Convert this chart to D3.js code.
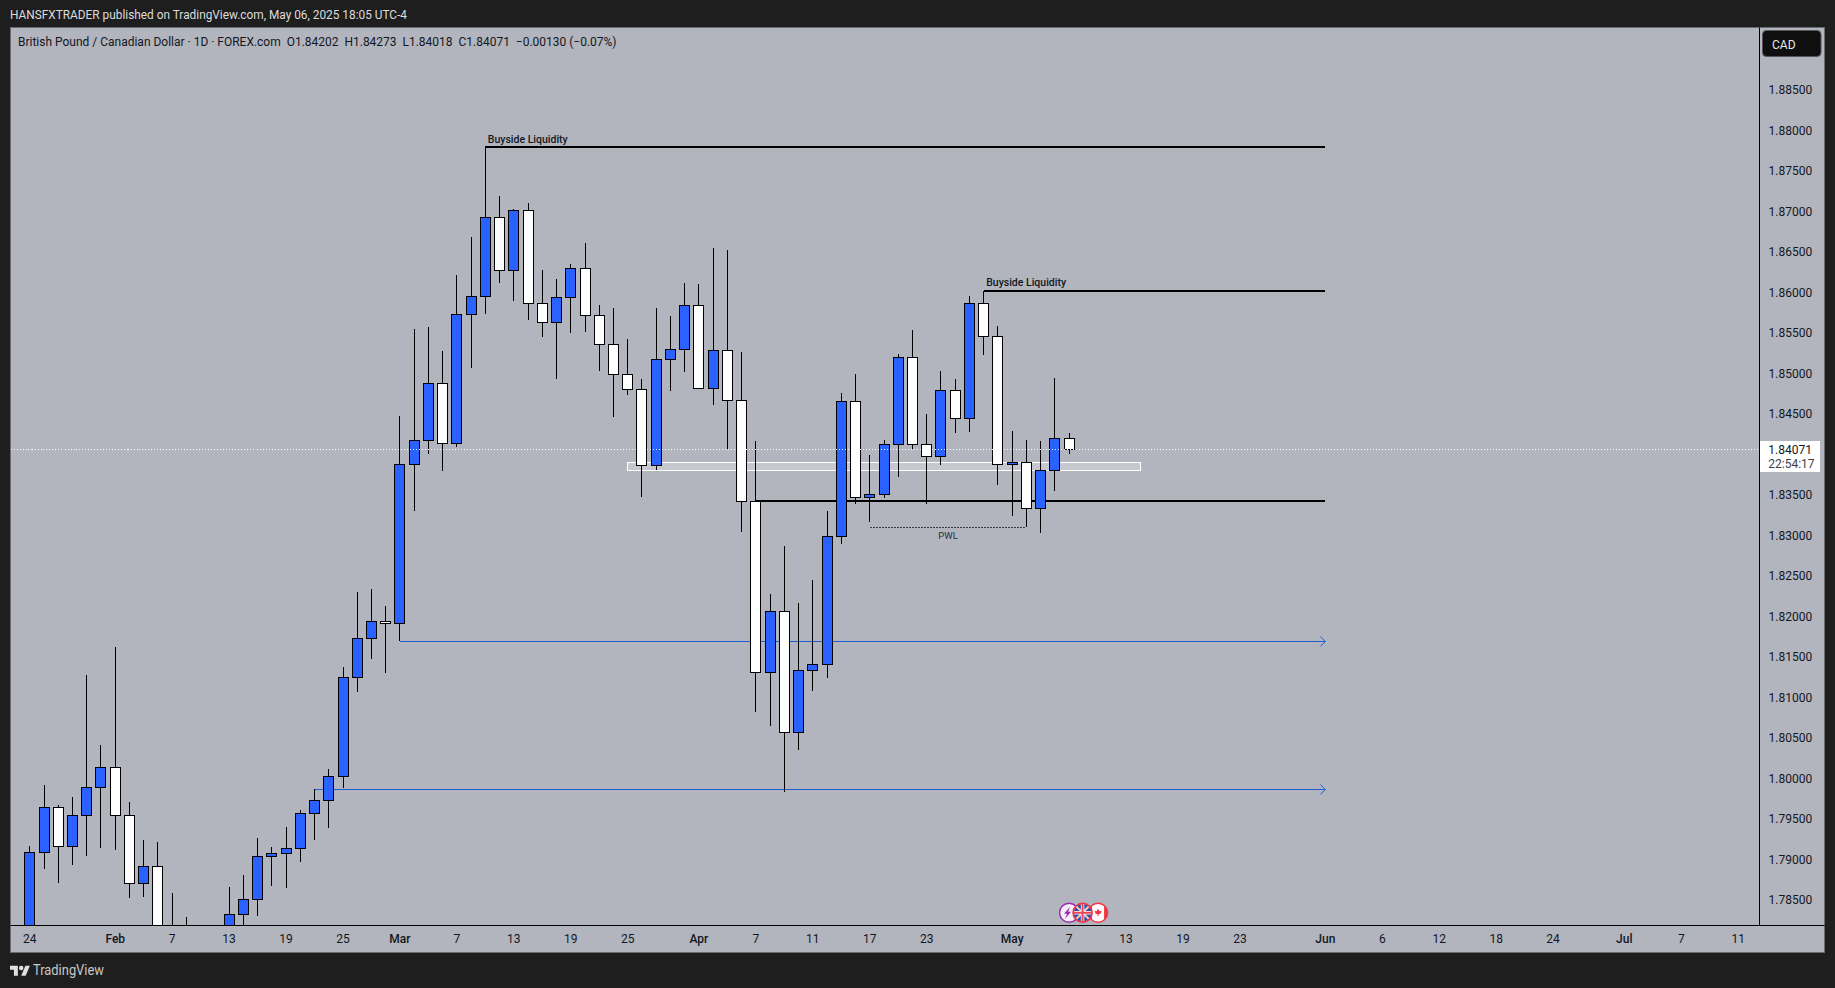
<!DOCTYPE html>
<html>
<head>
<meta charset="utf-8">
<script src="https://cdn.jsdelivr.net/npm/d3@7"></script>
<style>
  html, body { margin: 0; padding: 0; background: #1e1e1e; overflow: hidden; }
  text { font-family: Roboto, sans-serif; }
</style>
</head>
<body>
<svg id="chart" width="1835" height="988"></svg>
<script>
// daily candles, one entry per slot starting at Jan 24
var opens = [1.78013,1.79091,1.79651,1.79165,1.79553,1.79898,1.80145,1.79553,1.78713,1.78923,
  1.77951,1.77519,1.77766,1.77581,1.77766,1.78330,1.78516,1.79046,1.79083,1.79145,
  1.79577,1.79738,1.80034,1.81256,1.81738,1.81948,1.81923,1.83886,1.84182,1.84886,
  1.84145,1.85738,1.85960,1.86935,1.86281,1.87022,1.85874,1.85639,1.85948,1.86306,
  1.85725,1.85367,1.84997,1.84812,1.83874,1.85182,1.85306,1.85849,1.84824,1.85293,
  1.84676,1.83429,1.81313,1.82071,1.80577,1.81343,1.81417,1.82997,1.84664,1.83479,
  1.83516,1.84133,1.85207,1.84133,1.83985,1.84800,1.84454,1.85874,1.85466,1.83886,
  1.83911,1.83343,1.83812,1.84202];
var highs = [1.79174,1.79927,1.79680,1.79779,1.81285,1.80421,1.81630,1.79717,1.79248,1.79223,
  1.78593,1.78297,1.78013,1.77951,1.78667,1.78816,1.79272,1.79161,1.79408,1.79618,
  1.79877,1.80124,1.81383,1.82309,1.82346,1.82137,1.84482,1.85556,1.85581,1.85285,
  1.86223,1.86692,1.87807,1.87198,1.87038,1.87112,1.86285,1.86174,1.86359,1.86618,
  1.85853,1.85816,1.85433,1.84939,1.85816,1.85717,1.86124,1.86112,1.86556,1.86532,
  1.85272,1.84174,1.82285,1.82877,1.82174,1.82458,1.83309,1.84766,1.85001,1.84001,
  1.84186,1.85244,1.85544,1.84507,1.85038,1.84939,1.85964,1.86025,1.85593,1.84297,
  1.84186,1.84174,1.84951,1.84273];
var lows = [1.77890,1.78893,1.78721,1.78943,1.79054,1.79153,1.79128,1.78535,1.78548,1.77766,
  1.77396,1.77396,1.77396,1.77396,1.77581,1.78137,1.78313,1.78683,1.78659,1.78980,
  1.79251,1.79400,1.79893,1.81079,1.81486,1.81313,1.81701,1.83313,1.84017,1.83807,
  1.84103,1.85079,1.85745,1.86128,1.85902,1.85667,1.85461,1.84943,1.85511,1.85523,
  1.85041,1.84474,1.84745,1.83486,1.83819,1.84795,1.85029,1.84824,1.84622,1.84075,
  1.83054,1.80832,1.80659,1.79844,1.80362,1.81091,1.81251,1.82906,1.83396,1.83177,
  1.83474,1.83733,1.84075,1.83400,1.83881,1.84276,1.84288,1.85239,1.83634,1.83251,
  1.83116,1.83042,1.83560,1.84018];
var closes = [1.79091,1.79651,1.79165,1.79553,1.79898,1.80145,1.79553,1.78713,1.78923,1.77951,
  1.77519,1.77766,1.77581,1.77766,1.78330,1.78516,1.79046,1.79083,1.79145,1.79577,
  1.79738,1.80034,1.81256,1.81738,1.81948,1.81923,1.83886,1.84182,1.84886,1.84145,
  1.85738,1.85960,1.86935,1.86281,1.87022,1.85874,1.85639,1.85948,1.86306,1.85725,
  1.85367,1.84997,1.84812,1.83874,1.85182,1.85306,1.85849,1.84824,1.85293,1.84676,
  1.83429,1.81313,1.82071,1.80577,1.81343,1.81417,1.82997,1.84664,1.83479,1.83516,
  1.84133,1.85207,1.84133,1.83985,1.84800,1.84454,1.85874,1.85466,1.83886,1.83911,
  1.83343,1.83812,1.84207,1.84071];

// 1.84 is not listed, the last price tag sits on it
var priceTicks = [1.885,1.88,1.875,1.87,1.865,1.86,1.855,1.85,1.845,1.835,1.83,1.825,1.82,
  1.815,1.81,1.805,1.8,1.795,1.79,1.785];
var timeTickSlots = [0,6,10,14,18,22,26,30,34,38,42,47,51,55,59,63,69,73,77,81,85,91,95,99,103,107,112,116,120];
var timeTickLabels = ["24","Feb","7","13","19","25","Mar","7","13","19","25","Apr","7","11","17","23",
  "May","7","13","19","23","Jun","6","12","18","24","Jul","7","11"];

var lastPrice = 1.84071;
var countdown = "22:54:17";
var headerText = "HANSFXTRADER published on TradingView.com, May 06, 2025 18:05 UTC-4";
var legendText = "British Pound / Canadian Dollar \u00b7 1D \u00b7 FOREX.com  O1.84202  H1.84273  L1.84018  C1.84071  \u22120.00130 (\u22120.07%)";

// drawings: [start slot, end slot, price]
var liquidityLines = [[32, 91, 1.87807], [67, 91, 1.86025], [51, 91, 1.83437]];
var liquidityLabels = ["Buyside Liquidity", "Buyside Liquidity"];
var arrowLines = [[26, 91, 1.81701], [20, 91, 1.79874]];
var zoneBox = [42, 78, 1.83911, 1.83812];
var pwlLine = [59, 70, 1.83108];

var paneLeft = 10.5, paneTop = 27.5, paneRight = 1824.5, paneBottom = 952.5;
var axisX = 1759.5, axisY = 925.5;
var dark = "#131722";

var svg = d3.select("#chart");

var xScale = d3.scaleLinear().domain([0, 120]).range([29.8, 1738.2]);
var yScale = d3.scaleLinear().domain([1.84071, 1.885]).range([449.3, 90.5]);

function snap(v) { return Math.floor(v) + 0.5; }

/* background and frame */
svg.append("rect").attr("x", paneLeft).attr("y", paneTop)
  .attr("width", paneRight - paneLeft).attr("height", paneBottom - paneTop)
  .attr("fill", "#b2b5be").attr("stroke", "#6a6b70");

svg.append("text").attr("x", 10).attr("y", 19).attr("fill", "#dcdcdc")
  .attr("font-size", 12).attr("textLength", 397).attr("lengthAdjust", "spacingAndGlyphs")
  .text(headerText);

svg.append("defs").append("clipPath").attr("id", "plot")
  .append("rect").attr("x", paneLeft).attr("y", paneTop)
  .attr("width", axisX - paneLeft).attr("height", axisY - paneTop);

var plot = svg.append("g").attr("clip-path", "url(#plot)").attr("shape-rendering", "crispEdges");

/* drawings sit behind the candles */
plot.append("rect")
  .attr("x", snap(xScale(zoneBox[0])) - 0.5)
  .attr("y", snap(yScale(zoneBox[2])))
  .attr("width", xScale(zoneBox[1]) - xScale(zoneBox[0]) + 1)
  .attr("height", yScale(zoneBox[3]) - yScale(zoneBox[2]))
  .attr("fill", "#c6c7cf").attr("stroke", "#fff").attr("stroke-width", 1);

plot.selectAll(".arrow-line").data(arrowLines).enter().append("line")
  .attr("class", "arrow-line")
  .attr("x1", d => xScale(d[0])).attr("x2", d => xScale(d[1]))
  .attr("y1", d => snap(yScale(d[2]))).attr("y2", d => snap(yScale(d[2])))
  .attr("stroke", "#1c5fd4").attr("stroke-width", 1);

plot.selectAll(".arrow-head").data(arrowLines).enter().append("path")
  .attr("class", "arrow-head")
  .attr("d", d => {
    var tip = xScale(d[1]), y = snap(yScale(d[2]));
    return d3.line()([[tip - 5, y - 5], [tip, y], [tip - 5, y + 5]]);
  })
  .attr("fill", "none").attr("stroke", "#1c5fd4").attr("stroke-width", 1)
  .attr("shape-rendering", "auto");

plot.selectAll(".liq").data(liquidityLines).enter().append("line")
  .attr("class", "liq")
  .attr("x1", d => xScale(d[0])).attr("x2", d => xScale(d[1]))
  .attr("y1", d => Math.round(yScale(d[2]))).attr("y2", d => Math.round(yScale(d[2])))
  .attr("stroke", "#000").attr("stroke-width", 2);

plot.append("line")
  .attr("x1", xScale(pwlLine[0])).attr("x2", xScale(pwlLine[1]))
  .attr("y1", snap(yScale(pwlLine[2]))).attr("y2", snap(yScale(pwlLine[2])))
  .attr("stroke", "#3a3c44").attr("stroke-width", 1).attr("stroke-dasharray", "2,1");

/* candles */
var slots = d3.range(opens.length);

plot.selectAll(".wick").data(slots).enter().append("line")
  .attr("class", "wick")
  .attr("x1", i => snap(xScale(i))).attr("x2", i => snap(xScale(i)))
  .attr("y1", i => yScale(highs[i])).attr("y2", i => yScale(lows[i]))
  .attr("stroke", "#000").attr("stroke-width", 1);

plot.selectAll(".body").data(slots).enter().append("rect")
  .attr("class", "body")
  .attr("x", i => snap(xScale(i)) - 5)
  .attr("y", i => snap(yScale(Math.max(opens[i], closes[i]))))
  .attr("width", 10)
  .attr("height", i => snap(yScale(Math.min(opens[i], closes[i]))) - snap(yScale(Math.max(opens[i], closes[i]))))
  .attr("fill", i => closes[i] >= opens[i] ? "#2962ff" : "#ffffff")
  .attr("stroke", "#000").attr("stroke-width", 1);

/* last price line */
plot.append("line")
  .attr("x1", paneLeft).attr("x2", axisX)
  .attr("y1", snap(yScale(lastPrice))).attr("y2", snap(yScale(lastPrice)))
  .attr("stroke", "#fff").attr("stroke-width", 1).attr("stroke-dasharray", "1,2");

/* annotation labels */
svg.selectAll(".liq-label").data(liquidityLabels).enter().append("text")
  .attr("class", "liq-label")
  .attr("x", (d, i) => xScale(liquidityLines[i][0]) + 2.5)
  .attr("y", (d, i) => yScale(liquidityLines[i][2]) - (i === 0 ? 4 : 5))
  .attr("font-size", 10.5).attr("font-weight", 500).attr("fill", dark)
  .text(d => d);

svg.append("text")
  .attr("x", 948).attr("y", yScale(pwlLine[2]) + 12)
  .attr("text-anchor", "middle").attr("font-size", 9.5).attr("fill", "#2a2e39")
  .text("PWL");

svg.append("text").attr("x", 18).attr("y", 46).attr("fill", dark)
  .attr("font-size", 12).attr("xml:space", "preserve")
  .attr("textLength", 598.5).attr("lengthAdjust", "spacingAndGlyphs")
  .text(legendText);

/* axes */
var yAxis = d3.axisRight(yScale).tickValues(priceTicks).tickFormat(d3.format(".5f")).tickSize(0).tickPadding(9);
var gy = svg.append("g").attr("transform", `translate(${axisX}, -0.8)`).call(yAxis);
gy.select(".domain").remove();
gy.selectAll("text").attr("font-size", 12).attr("fill", dark).attr("font-family", "Roboto, sans-serif");

var xAxis = d3.axisBottom(xScale).tickValues(timeTickSlots)
  .tickFormat((d, i) => timeTickLabels[i]).tickSize(0).tickPadding(9);
var gx = svg.append("g").attr("transform", `translate(-0.5, ${axisY})`).call(xAxis);
gx.select(".domain").remove();
gx.selectAll("text").attr("font-size", 12).attr("fill", dark).attr("font-family", "Roboto, sans-serif")
  .attr("font-weight", (d, i) => isNaN(+timeTickLabels[i]) ? 500 : 400);

svg.append("line").attr("x1", paneLeft).attr("x2", paneRight).attr("y1", axisY).attr("y2", axisY)
  .attr("stroke", "#000");
svg.append("line").attr("x1", axisX).attr("x2", axisX).attr("y1", paneTop).attr("y2", axisY)
  .attr("stroke", "#000");

/* currency button */
svg.append("rect").attr("x", 1762.5).attr("y", 30.5).attr("width", 58.5).attr("height", 26).attr("rx", 4)
  .attr("fill", "#0f0f0f").attr("stroke", "#55565a");
svg.append("text").attr("x", 1772).attr("y", 49).attr("font-size", 12).attr("fill", "#e8e8e8").text("CAD");

/* last price tag */
var tagY = yScale(lastPrice);
svg.append("rect").attr("x", axisX + 0.5).attr("y", tagY - 8.3).attr("width", 60).attr("height", 31)
  .attr("fill", "#fff");
svg.append("text").attr("x", 1768.3).attr("y", tagY + 4.2).attr("font-size", 12).attr("fill", dark)
  .text(d3.format(".5f")(lastPrice));
svg.append("text").attr("x", 1768.3).attr("y", tagY + 18.7).attr("font-size", 12).attr("fill", "#3c3f48")
  .text(countdown);

/* event badges */
var badges = svg.append("g");
var eventX = xScale(73);
var badgeY = 912.7;
var canada = badges.append("g").attr("transform", `translate(${eventX + 29}, ${badgeY})`);
canada.append("circle").attr("r", 9.5).attr("fill", "#fff").attr("stroke", "#f23645").attr("stroke-width", 1.4);
canada.append("path").attr("d", "M-9,-4 A10,10 0 0 0 -9,4 L-6,7 L-6,-7 Z M9,-4 A10,10 0 0 1 9,4 L6,7 L6,-7 Z").attr("fill", "#f23645");
canada.append("path").attr("d", "M0,-4 L1.5,-1.5 L3.5,-2 L2.5,1 L0.5,1.5 L0.5,3.5 L-0.5,3.5 L-0.5,1.5 L-2.5,1 L-3.5,-2 L-1.5,-1.5 Z").attr("fill", "#f23645");

var flash = badges.append("g").attr("transform", `translate(${eventX}, ${badgeY})`);
flash.append("circle").attr("r", 9.5).attr("fill", "#f4eef8").attr("stroke", "#9c27b0").attr("stroke-width", 1.4);
flash.append("path").attr("d", "M1,-6 L-5,1 L-2,1 L-4,6 L2,-1 L-1,-1 Z").attr("fill", "#9c27b0");

var uk = badges.append("g").attr("transform", `translate(${eventX + 13.5}, ${badgeY})`);
uk.append("clipPath").attr("id", "ukClip").append("circle").attr("r", 9);
var ukFlag = uk.append("g").attr("clip-path", "url(#ukClip)");
ukFlag.append("rect").attr("x", -10).attr("y", -10).attr("width", 20).attr("height", 20).attr("fill", "#2a50a8");
ukFlag.append("path").attr("d", "M-10,-10 L10,10 M10,-10 L-10,10").attr("stroke", "#f4c6c8").attr("stroke-width", 2);
ukFlag.append("path").attr("d", "M0,-10 V10 M-10,0 H10").attr("stroke", "#fff").attr("stroke-width", 3.5);
ukFlag.append("path").attr("d", "M0,-10 V10 M-10,0 H10").attr("stroke", "#ea4552").attr("stroke-width", 2);
uk.append("circle").attr("r", 9.5).attr("fill", "none").attr("stroke", "#f23645").attr("stroke-width", 1.6);

/* footer logo */
var logo = svg.append("g").attr("transform", "translate(10, 963.5) scale(0.56)").attr("fill", "#e0e0e0");
logo.append("path").attr("d", "M14 22H7V11H0V4h14v18zM28 22h-8l7.5-18h8L28 22z");
logo.append("circle").attr("cx", 20).attr("cy", 8).attr("r", 4);
svg.append("text").attr("x", 33).attr("y", 974.5).attr("font-size", 14).attr("fill", "#c8c8c8")
  .attr("textLength", 71).attr("lengthAdjust", "spacingAndGlyphs").text("TradingView");
</script>
</body>
</html>
